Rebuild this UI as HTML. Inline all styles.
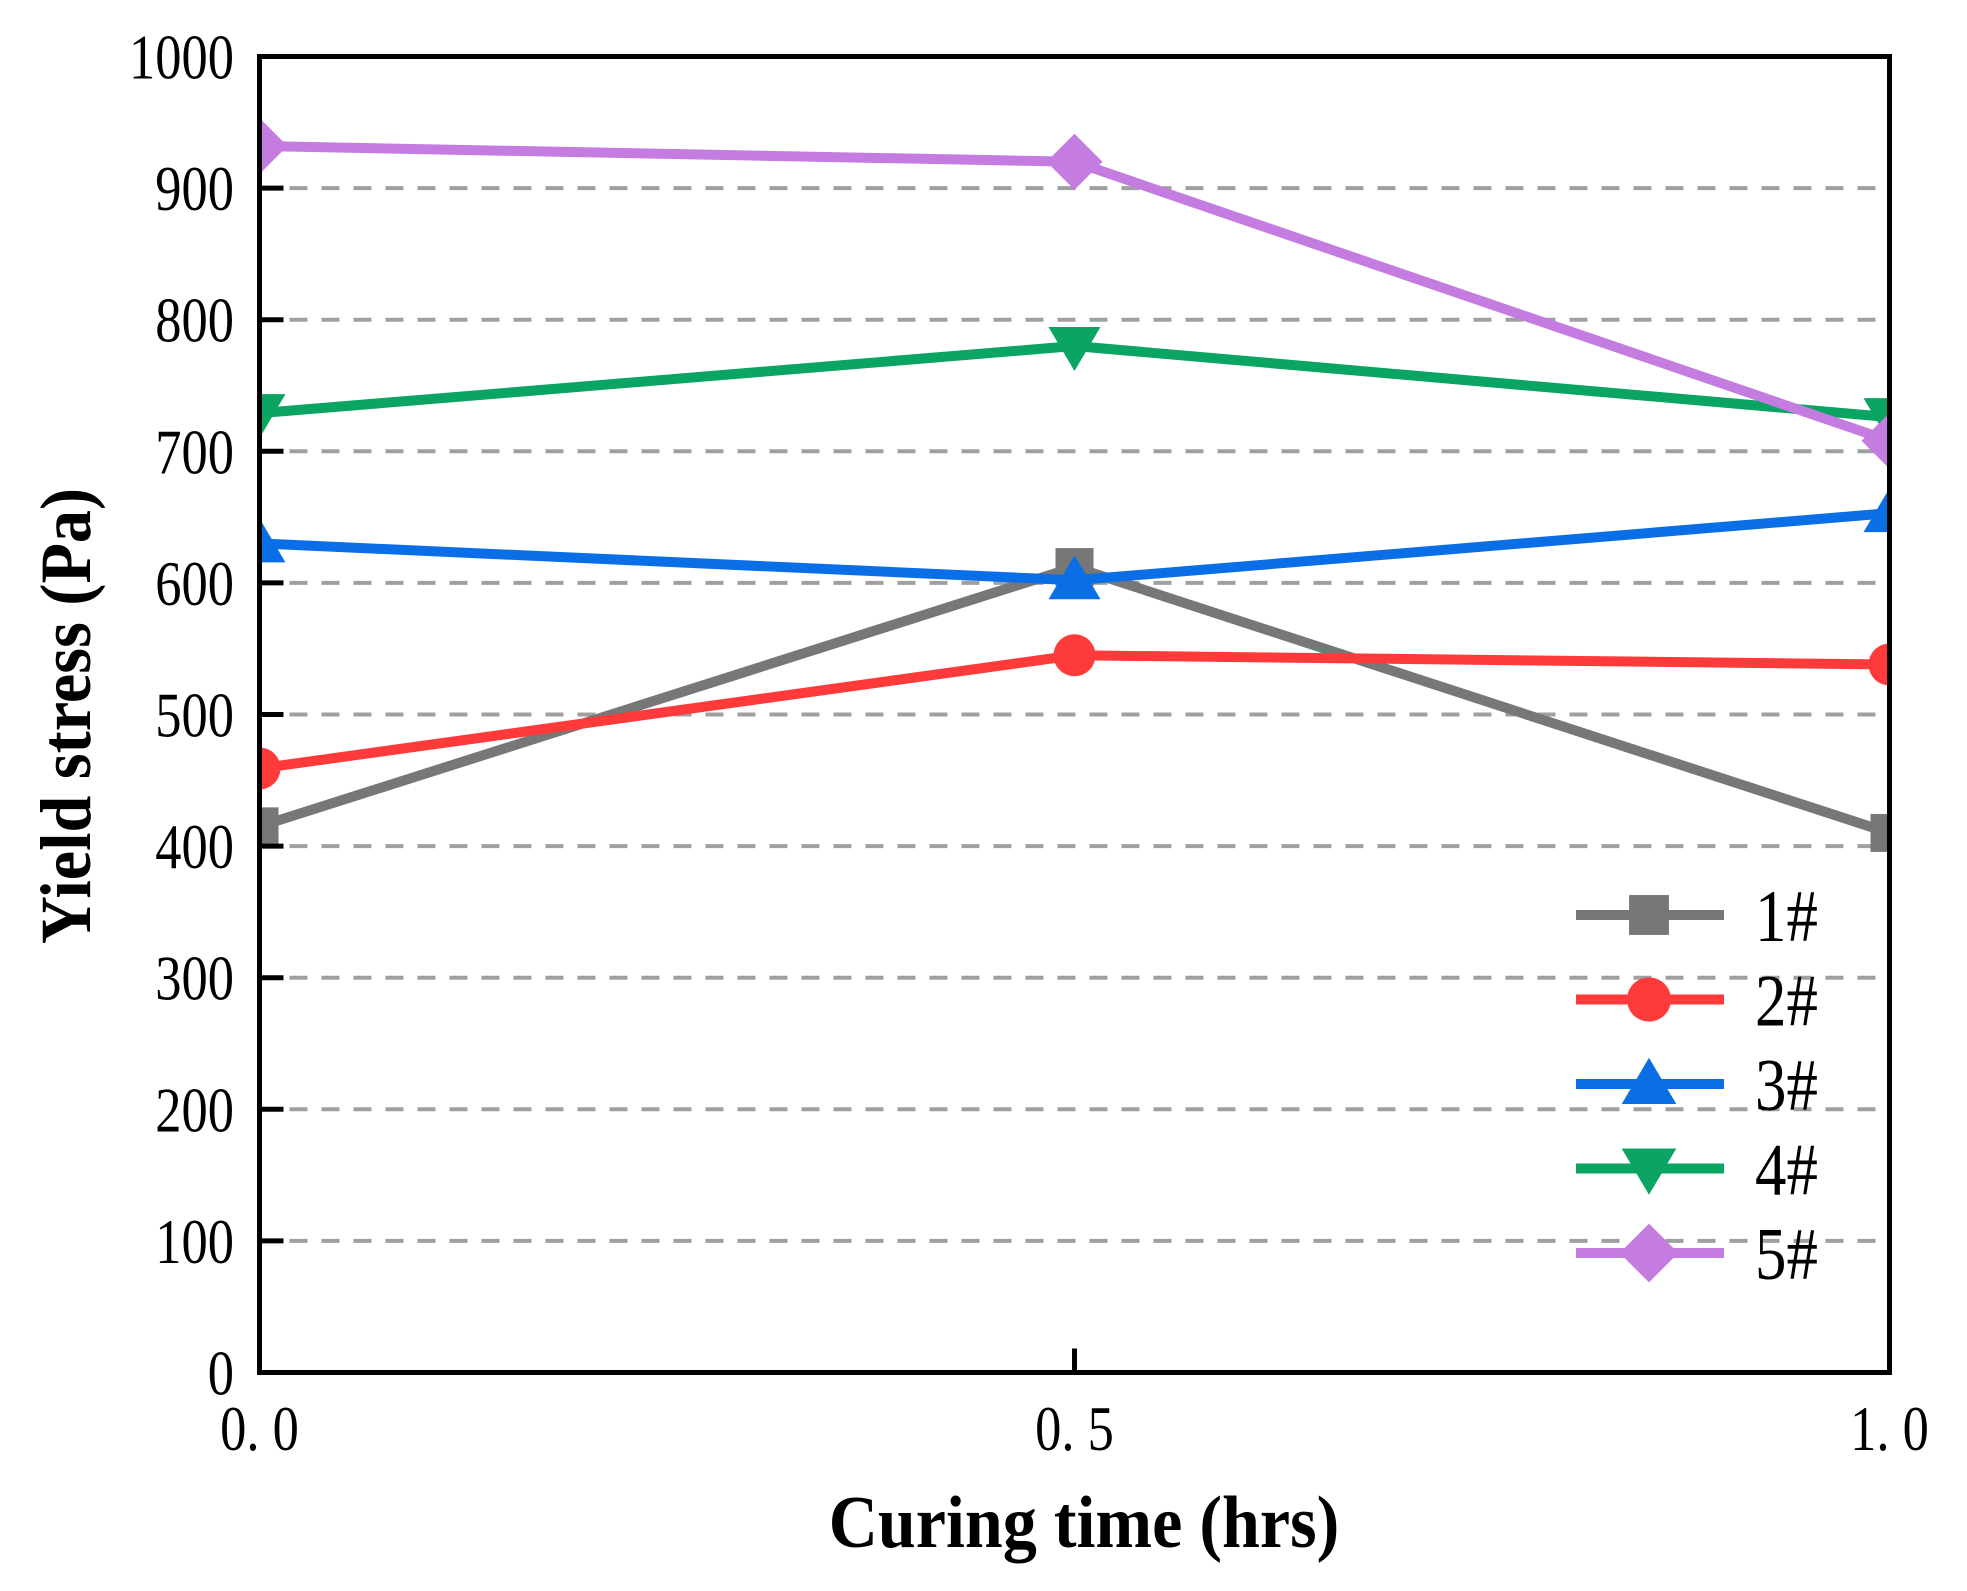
<!DOCTYPE html>
<html><head><meta charset="utf-8"><style>
html,body{margin:0;padding:0;background:#fff;}
svg text{font-family:"Liberation Serif",serif;}
</style></head><body>
<svg id="chart" width="1967" height="1586" xmlns="http://www.w3.org/2000/svg"></svg>
<script>
const categories=[0,0.5,1.0];
const xTickLabels=["0. 0","0. 5","1. 0"];
const yTicks=[0,100,200,300,400,500,600,700,800,900,1000];
const seriesNames=["1#","2#","3#","4#","5#"];
const s1=[415,612,410];
const s2=[459,545,538];
const s3=[630,602,653];
const s4=[729,780,726];
const s5=[932,920,708];
const seriesValues=[s1,s2,s3,s4,s5];
const colors=["#777777","#ff3a3a","#0a6fe6","#0aa463","#c47ce0"];
const markers=["square","circle","tri-up","tri-down","diamond"];

const L=259.5,R=1889.5,T=56.5,B=1372.5;
const xs=v=>L+(v-0)/(1-0)*(R-L);
const ys=v=>B-(v/1000)*(B-T);
const svg=document.getElementById('chart');
const NS="http://www.w3.org/2000/svg";
function mk(tag,attrs,parent){const e=document.createElementNS(NS,tag);for(const k in attrs)e.setAttribute(k,attrs[k]);(parent||svg).appendChild(e);return e;}

function marker(type,x,y,c,g,s){
  s=s||1;
  let e;
  if(type==="square")e=mk('rect',{x:x-19*s,y:y-19*s,width:38*s,height:38*s,fill:c},g);
  else if(type==="circle")e=mk('circle',{cx:x,cy:y,r:21*s,fill:c},g);
  else if(type==="tri-up")e=mk('polygon',{points:`${x},${y-25*s} ${x+26*s},${y+19*s} ${x-26*s},${y+19*s}`,fill:c},g);
  else if(type==="tri-down")e=mk('polygon',{points:`${x},${y+25*s} ${x+26*s},${y-19*s} ${x-26*s},${y-19*s}`,fill:c},g);
  else e=mk('polygon',{points:`${x},${y-28*s} ${x+28*s},${y} ${x},${y+28*s} ${x-28*s},${y}`,fill:c},g);
  return e;
}

const grid=mk('g',{});


yTicks.forEach(t=>{
  if(t===0||t===1000)return;
  const l=mk('line',{x1:L+30,x2:R,y1:ys(t),y2:ys(t),stroke:'#a0a0a0','stroke-width':4,'stroke-dasharray':'18,14'},grid);
  
  
});

const defs=mk('defs',{});
const cp=mk('clipPath',{id:'plotclip'},defs);
mk('rect',{x:L,y:T,width:R-L,height:B-T},cp);

const sg=mk('g',{'clip-path':'url(#plotclip)'});
seriesValues.forEach((vals,i)=>{
  const g=mk('g',{},sg);
  
  
  const pts=vals.map((v,j)=>xs(categories[j])+','+ys(v)).join(' ');
  const pl=mk('polyline',{points:pts,fill:'none',stroke:colors[i],'stroke-width':10,'stroke-linejoin':'round'},g);
  
  
  vals.forEach((v,j)=>{
    const m=marker(markers[i],xs(categories[j]),ys(v),colors[i],g);
    
    
  });
});

const frame=mk('rect',{x:L,y:T,width:R-L,height:B-T,fill:'none',stroke:'#000','stroke-width':5});



const yax=mk('g',{});


yTicks.forEach(t=>{
  mk('line',{x1:L,x2:L+24,y1:ys(t),y2:ys(t),stroke:'#000','stroke-width':5},yax);
  const tx=mk('text',{x:0,y:0,'text-anchor':'end','font-size':64,transform:`translate(234,${ys(t)+22}) scale(0.82,1)`},yax);
  tx.textContent=t;
  
  
});
const xax=mk('g',{});


categories.forEach((c,j)=>{
  mk('line',{x1:xs(c),x2:xs(c),y1:B,y2:B-24,stroke:'#000','stroke-width':5},xax);
  const tx=mk('text',{x:0,y:0,'text-anchor':'middle','font-size':64,transform:`translate(${xs(c)},1450) scale(0.82,1)`},xax);
  tx.textContent=xTickLabels[j];
  
  
});

const xt=mk('text',{x:0,y:0,'text-anchor':'middle','font-size':74,'font-weight':'bold',transform:'translate(1084,1547) scale(0.92,1)'});
xt.textContent='Curing time (hrs)';


const yt=mk('text',{x:0,y:0,'text-anchor':'middle','font-size':72,'font-weight':'bold',transform:'translate(90,716) rotate(-90) scale(0.92,1)'});
yt.textContent='Yield stress (Pa)';



const lg=mk('g',{});


seriesNames.forEach((n,i)=>{
  const y=915+i*84.5;
  const e=mk('g',{},lg);
  
  
  mk('line',{x1:1576,x2:1724,y1:y,y2:y,stroke:colors[i],'stroke-width':10},e);
  marker(markers[i],1649,y,colors[i],e,1.05);
  const tx=mk('text',{x:0,y:0,'font-size':74,transform:`translate(1755,${y+26}) scale(0.85,1)`},e);
  tx.textContent=n;
});
</script>
</body></html>
